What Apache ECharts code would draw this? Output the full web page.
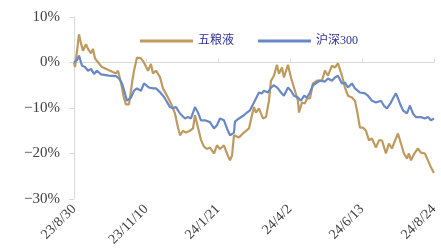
<!DOCTYPE html>
<html>
<head>
<meta charset="utf-8">
<script src="https://cdn.jsdelivr.net/npm/echarts@6/dist/echarts.min.js"></script>
<style>
  html, body { margin: 0; padding: 0; background: #fff; }
  #chart { width: 441px; height: 250px; }
</style>
</head>
<body>
<div id="chart"></div>
<script>
// x values are calendar days counted from 2023/8/30
var tickLabels = ['23/8/30', '23/11/10', '24/1/21', '24/4/2', '24/6/13', '24/8/24'];

// 五粮液
var wlyDays = [0, 1, 3, 5, 7, 9, 12, 14, 17, 19, 21, 23, 26, 28, 35, 42, 44, 46, 48, 50, 52, 55, 58, 60, 63, 67, 70, 74, 77, 79,
  82, 86, 89, 94, 97, 101, 104, 106, 109, 112, 116, 119, 121, 124, 127, 130, 133, 136, 140, 143, 146, 150, 153, 156, 158, 160,
  165, 170, 175, 178, 180, 182, 185, 189, 192, 195, 197, 200, 203, 205, 208, 210, 214, 217, 220, 224, 225, 228, 231, 233, 236,
  239, 243, 248, 251, 254, 258, 261, 264, 268, 271, 274, 278, 281, 283, 286, 289, 292, 295, 298, 302, 305, 308, 312, 315, 318,
  322, 324, 327, 330, 333, 335, 337, 341, 344, 347, 351, 354, 357, 360];
var wlyVals = [0, -1, 2.5, 6.2, 4.2, 2.6, 4, 3, 2, 3, 0.9, 1.1, -0.5, -1, -1.7, -2.4, -1.8, -3.5, -5.5, -7.9, -9.2, -9.2, -4.6, -1.8, 1.1, 0.9, 0, -1.8, -0.3, -2.4,
  -1.8, -3.2, -5.7, -7.7, -9, -11.2, -14.3, -16, -15, -15.4, -15, -14.5, -11.6, -14.3, -17, -18.5, -19, -18.7, -20, -18.2, -19, -18.2, -20, -21.5, -20.5, -16,
  -16.5, -15.4, -14.5, -11.6, -9.8, -11, -10.1, -12.3, -12, -8.4, -4, -2.9, -0.5, -2.5, -1.1, -3.3, -0.5, -3.3, -5.5, -8.4, -11, -8.8, -9, -7.9, -7.9,
  -4.6, -4, -4, -1.8, -2.9, -0.7, -1.1, -0.2, -2.9, -5.5, -7.3, -7.7, -8.4, -10.5, -14.3, -14.3, -15, -17.1, -16.7, -18.7, -17.1, -17.1, -20, -17.8, -18.9,
  -16.7, -15.6, -17.8, -20, -21.1, -20, -21.5, -19.8, -18.9, -19.8, -20, -21.5, -23, -24.3];

// 沪深300
var hsDays = [0, 3, 5, 8, 11, 14, 17, 20, 23, 27, 35, 42, 45, 48, 51, 53, 55, 57, 60, 63, 67, 70, 75, 79, 82, 86, 89, 91, 96, 99,
  102, 106, 111, 114, 117, 121, 124, 127, 131, 136, 140, 143, 146, 150, 153, 156, 160, 161, 165, 170, 173, 176, 180, 185, 188,
  190, 194, 197, 200, 204, 207, 210, 214, 217, 220, 224, 227, 230, 233, 236, 239, 243, 246, 251, 254, 258, 261, 264, 268, 271,
  274, 278, 281, 286, 291, 294, 298, 302, 307, 310, 313, 317, 319, 322, 326, 329, 333, 336, 339, 342, 347, 351, 354, 357, 360];
var hsVals = [0, 0.5, 1.5, -0.7, -1, -1.8, -1.4, -2.5, -1.8, -2.6, -2.9, -3, -3.5, -4.6, -6.8, -8.4, -8.6, -7.7, -6.2, -5.7, -6.2, -4.6, -5.5, -5.7, -5.7, -6.5, -7.3, -7.9, -9.8, -10,
  -9.8, -11.2, -12.3, -12, -12.3, -9.8, -11, -12.7, -12.7, -13.1, -14.5, -13.8, -12.3, -12.7, -14.5, -16, -15.4, -13, -12.3, -11.6, -11, -10.5, -8.8, -6.6, -6.8,
  -6.2, -6.6, -5.5, -5, -5.7, -6.6, -7.3, -5.5, -6.2, -7.3, -7.7, -8.4, -7.3, -7.7, -6.6, -5, -4.4, -4, -4.2, -3.5, -4, -3.3, -2.9, -4.6, -4.4,
  -5.5, -4.6, -5.7, -6.6, -6.8, -7.3, -8.4, -8.8, -8.4, -9.5, -10.1, -8.8, -7.9, -6.8, -9, -10.5, -11.2, -9.5, -11.2, -12, -12, -12.3, -12, -12.7, -12.3];

function pairs(xs, ys) {
  var out = [];
  for (var i = 0; i < xs.length; i++) {
    out.push([xs[i], ys[i]]);
  }
  return out;
}

var serif = '"Liberation Serif", "Noto Sans CJK SC", serif';

var chart = echarts.init(document.getElementById('chart'));
chart.setOption({
  animation: false,
  grid: { left: 74, right: 0, top: 17, bottom: 51 },
  legend: {
    left: 135,
    top: 30,
    itemWidth: 53,
    itemHeight: 3,
    itemGap: 24,
    icon: 'rect',
    textStyle: { color: '#2e3192', fontSize: 12, fontFamily: serif },
    data: ['五粮液', '沪深300']
  },
  xAxis: {
    type: 'value',
    min: 0,
    max: 360,
    interval: 72,
    splitLine: { show: false },
    axisLine: { lineStyle: { color: '#d9d9d9', width: 1 } },
    axisTick: { show: true, inside: true, length: 4, lineStyle: { color: '#d9d9d9' } },
    axisLabel: {
      rotate: 45,
      margin: 8,
      color: '#404040',
      fontSize: 14,
      fontFamily: serif,
      formatter: function (v) { return tickLabels[Math.round(v / 72)]; }
    }
  },
  yAxis: {
    type: 'value',
    min: -30,
    max: 10,
    interval: 10,
    splitLine: { show: false },
    axisLine: { show: true, lineStyle: { color: '#d9d9d9', width: 1 } },
    axisTick: { show: true, length: 5, lineStyle: { color: '#d9d9d9' } },
    axisLabel: {
      margin: 14,
      color: '#404040',
      fontSize: 15,
      fontFamily: serif,
      formatter: function (v) { return (v < 0 ? '\u2212' + (-v) : v) + '%'; }
    }
  },
  series: [{
    name: '五粮液',
    type: 'line',
    data: pairs(wlyDays, wlyVals),
    showSymbol: false,
    lineStyle: { color: '#bf9a5f', width: 2.2 },
    itemStyle: { color: '#bf9a5f' }
  }, {
    name: '沪深300',
    type: 'line',
    data: pairs(hsDays, hsVals),
    showSymbol: false,
    lineStyle: { color: '#6a88c6', width: 2.2 },
    itemStyle: { color: '#6a88c6' }
  }]
});
</script>
</body>
</html>
